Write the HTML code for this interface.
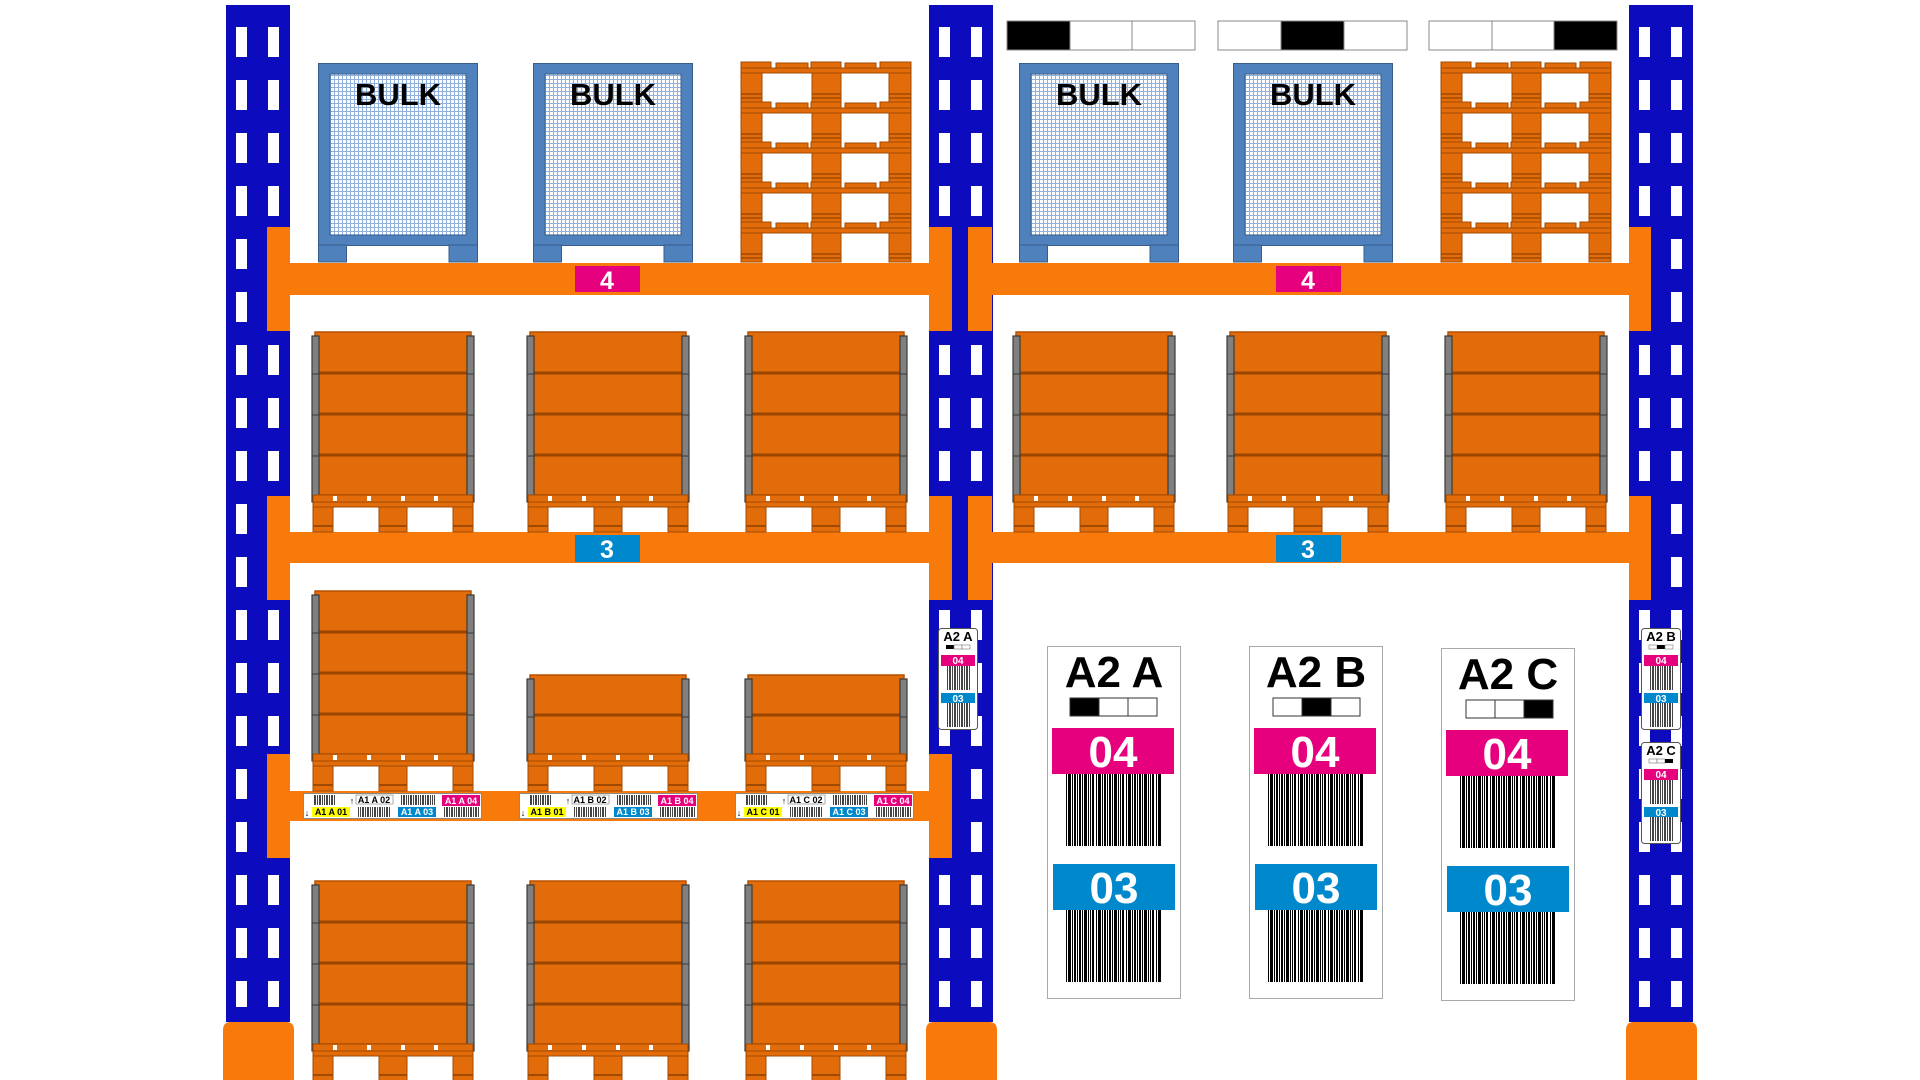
<!DOCTYPE html>
<html><head><meta charset="utf-8"><style>
html,body{margin:0;padding:0;background:#fff;}
svg{display:block;}
text{font-family:"Liberation Sans",sans-serif;font-weight:bold;}
</style></head><body>
<svg width="1920" height="1080" viewBox="0 0 1920 1080" xmlns="http://www.w3.org/2000/svg">
<defs>
  <pattern id="slots" patternUnits="userSpaceOnUse" x="0" y="27" width="64" height="53">
    <rect x="10" y="0" width="11" height="30" fill="#fff"/>
    <rect x="42" y="0" width="11" height="30" fill="#fff"/>
  </pattern>
  <pattern id="mesh" patternUnits="userSpaceOnUse" width="4" height="4">
    <rect width="4" height="4" fill="#fff"/>
    <path d="M0 0.5H4M0.5 0V4" stroke="#8fb0dc" stroke-width="1"/>
  </pattern>
  <pattern id="bc" patternUnits="userSpaceOnUse" width="30" height="10">
    <rect x="0" width="1" height="10" fill="#000"/><rect x="2" width="2" height="10" fill="#000"/>
    <rect x="5" width="1" height="10" fill="#000"/><rect x="7" width="3" height="10" fill="#000"/>
    <rect x="11" width="1" height="10" fill="#000"/><rect x="13" width="1" height="10" fill="#000"/>
    <rect x="15" width="2" height="10" fill="#000"/><rect x="19" width="1" height="10" fill="#000"/>
    <rect x="21" width="3" height="10" fill="#000"/><rect x="25" width="1" height="10" fill="#000"/>
    <rect x="27" width="2" height="10" fill="#000"/>
  </pattern>
  <pattern id="bcs" patternUnits="userSpaceOnUse" width="12" height="10">
    <rect x="0" width="1" height="10" fill="#444"/><rect x="2" width="1" height="10" fill="#444"/>
    <rect x="4" width="2" height="10" fill="#444"/><rect x="7" width="1" height="10" fill="#444"/>
    <rect x="9" width="1" height="10" fill="#444"/><rect x="11" width="1" height="10" fill="#444"/>
  </pattern>

  <g id="upright">
    <rect x="0" y="5" width="64" height="1017" fill="#0c0cbe"/>
    <rect x="0" y="27" width="64" height="980" fill="url(#slots)"/>
    <path d="M-3 1080V1030Q-3 1022 5 1022H60Q68 1022 68 1030V1080Z" fill="#f77a0a"/>
  </g>

  <g id="base">
    <rect x="1" y="0" width="160" height="7" fill="#e36c0a" stroke="#a04a00" stroke-width="1"/>
    <rect x="21" y="1" width="4" height="5" fill="#fff"/><rect x="55" y="1" width="4" height="5" fill="#fff"/>
    <rect x="89" y="1" width="4" height="5" fill="#fff"/><rect x="122" y="1" width="4" height="5" fill="#fff"/>
    <rect x="1" y="7" width="160" height="5" fill="#e36c0a" stroke="#a04a00" stroke-width="1"/>
    <rect x="1" y="12" width="20" height="25" fill="#e36c0a" stroke="#a04a00" stroke-width="1"/>
    <rect x="67" y="12" width="28" height="25" fill="#e36c0a" stroke="#a04a00" stroke-width="1"/>
    <rect x="141" y="12" width="20" height="25" fill="#e36c0a" stroke="#a04a00" stroke-width="1"/>
    <path d="M1 31H21M67 31H95M141 31H161" stroke="#a04a00" stroke-width="2"/>
  </g>

  <g id="box">
    <rect x="3" y="0" width="156" height="163" fill="#e36c0a" stroke="#b85000" stroke-width="1.5"/>
    <path d="M5 41H157M5 82H157M5 123H157" stroke="#9a4500" stroke-width="3"/>
    <rect x="0" y="4" width="7" height="166" fill="#808080" stroke="#3a3a3a" stroke-width="1.2"/>
    <rect x="155" y="4" width="7" height="166" fill="#808080" stroke="#3a3a3a" stroke-width="1.2"/>
    <path d="M0 42H7M0 83H7M0 124H7M155 42H162M155 83H162M155 124H162" stroke="#3a3a3a" stroke-width="1"/>
    <use href="#base" y="163"/>
  </g>

  <g id="sbox">
    <rect x="3" y="0" width="156" height="79" fill="#e36c0a" stroke="#b85000" stroke-width="1.5"/>
    <path d="M5 40H157" stroke="#9a4500" stroke-width="3"/>
    <rect x="0" y="4" width="7" height="82" fill="#808080" stroke="#3a3a3a" stroke-width="1.2"/>
    <rect x="155" y="4" width="7" height="82" fill="#808080" stroke="#3a3a3a" stroke-width="1.2"/>
    <path d="M0 42H7M155 42H162" stroke="#3a3a3a" stroke-width="1"/>
    <use href="#base" y="79"/>
  </g>

  <g id="pal">
    <rect x="0" y="0" width="30" height="6" fill="#e36c0a" stroke="#a04a00"/>
    <rect x="35" y="1" width="32" height="5" fill="#e36c0a" stroke="#a04a00"/>
    <rect x="70" y="0" width="30" height="6" fill="#e36c0a" stroke="#a04a00"/>
    <rect x="104" y="1" width="31" height="5" fill="#e36c0a" stroke="#a04a00"/>
    <rect x="139" y="0" width="31" height="6" fill="#e36c0a" stroke="#a04a00"/>
    <rect x="0" y="6" width="170" height="5" fill="#e36c0a" stroke="#a04a00"/>
    <rect x="0" y="11" width="21" height="29" fill="#e36c0a" stroke="#a04a00"/>
    <rect x="71" y="11" width="29" height="29" fill="#e36c0a" stroke="#a04a00"/>
    <rect x="148" y="11" width="22" height="29" fill="#e36c0a" stroke="#a04a00"/>
    <path d="M0 32H21M71 32H100M148 32H170M0 36H21M71 36H100M148 36H170" stroke="#a04a00" stroke-width="1.5"/>
  </g>
  <g id="stack">
    <use href="#pal" y="0"/><use href="#pal" y="40"/><use href="#pal" y="80"/><use href="#pal" y="120"/><use href="#pal" y="160"/>
  </g>

  <g id="cage">
    <rect x="0.5" y="0.5" width="159" height="182" fill="#4f81bd" stroke="#385d8a"/>
    <rect x="12" y="11" width="136" height="161" fill="url(#mesh)" stroke="#385d8a"/>
    <rect x="0.5" y="182" width="28" height="17" fill="#4f81bd" stroke="#385d8a"/>
    <rect x="131" y="182" width="28.5" height="17" fill="#4f81bd" stroke="#385d8a"/>
    <text x="80" y="42" font-size="31" text-anchor="middle" fill="#000">BULK</text>
  </g>

  <g id="biglab">
    <rect x="0.5" y="0.5" width="133" height="352" fill="#fff" stroke="#aaa"/>
    <rect x="5" y="82" width="122" height="46" fill="#e6007e"/>
    <text x="66" y="121" font-size="44" text-anchor="middle" fill="#fff">04</text>
    <rect x="17" y="128" width="98" height="72" fill="url(#bc)"/>
    <rect x="6" y="218" width="122" height="46" fill="#0088cc"/>
    <text x="67" y="257" font-size="44" text-anchor="middle" fill="#fff">03</text>
    <rect x="17" y="264" width="98" height="72" fill="url(#bc)"/>
  </g>

  <g id="smlab">
    <rect x="0.5" y="0.5" width="39" height="101" rx="3" fill="#fff" stroke="#555"/>
    <rect x="3" y="27" width="34" height="11" fill="#e6007e"/>
    <text x="20" y="36" font-size="10" text-anchor="middle" fill="#fff">04</text>
    <rect x="8" y="38" width="24" height="24" fill="url(#bcs)"/>
    <rect x="3" y="65" width="34" height="10" fill="#0088cc"/>
    <text x="20" y="74" font-size="10" text-anchor="middle" fill="#fff">03</text>
    <rect x="8" y="75" width="24" height="24" fill="url(#bcs)"/>
  </g>

  <g id="strip">
    <rect x="0.5" y="0.5" width="178" height="25" fill="#fff" stroke="#888"/>
    <rect x="10" y="2" width="22" height="10" fill="url(#bcs)"/>
    <rect x="97" y="2" width="35" height="10" fill="url(#bcs)"/>
    <rect x="54" y="14" width="33" height="10" fill="url(#bcs)"/>
    <rect x="140" y="14" width="37" height="10" fill="url(#bcs)"/>
    <rect x="53" y="2" width="37" height="9" fill="#fff" stroke="#999" stroke-width="0.8"/>
    <rect x="139" y="2" width="38" height="11" fill="#e6007e"/>
    <rect x="9" y="14" width="38" height="10" fill="#ffff00"/>
    <rect x="95" y="14" width="38" height="10" fill="#0088cc"/>
    <text x="49" y="11" font-size="9" text-anchor="middle" fill="#000">↑</text>
    <text x="4" y="23" font-size="9" text-anchor="middle" fill="#000">↓</text>
  </g>
</defs>

<!-- uprights -->
<use href="#upright" x="226"/>
<use href="#upright" x="929"/>
<use href="#upright" x="1629"/>

<!-- brackets -->
<g fill="#f77a0a">
  <rect x="267" y="227" width="23" height="104"/><rect x="267" y="496" width="23" height="104"/><rect x="267" y="754" width="23" height="104"/>
  <rect x="929" y="227" width="23" height="104"/><rect x="929" y="496" width="23" height="104"/><rect x="929" y="754" width="23" height="104"/>
  <rect x="968" y="227" width="24" height="104"/><rect x="968" y="496" width="24" height="104"/>
  <rect x="1629" y="227" width="22" height="104"/><rect x="1629" y="496" width="22" height="104"/>
  <!-- beams -->
  <rect x="290" y="263" width="640" height="32"/><rect x="992" y="263" width="637" height="32"/>
  <rect x="290" y="532" width="640" height="31"/><rect x="992" y="532" width="637" height="31"/>
  <rect x="290" y="791" width="640" height="30"/>
</g>

<!-- beam tags -->
<rect x="575" y="266" width="65" height="26" fill="#e6007e"/><text x="607" y="289" font-size="25" text-anchor="middle" fill="#fff">4</text>
<rect x="1276" y="266" width="65" height="26" fill="#e6007e"/><text x="1308" y="289" font-size="25" text-anchor="middle" fill="#fff">4</text>
<rect x="575" y="535" width="65" height="27" fill="#0088cc"/><text x="607" y="558" font-size="25" text-anchor="middle" fill="#fff">3</text>
<rect x="1276" y="535" width="65" height="27" fill="#0088cc"/><text x="1308" y="558" font-size="25" text-anchor="middle" fill="#fff">3</text>

<!-- top indicators -->
<g stroke="#888" stroke-width="1">
  <rect x="1007" y="21" width="63" height="29" fill="#000"/><rect x="1070" y="21" width="62" height="29" fill="#fff"/><rect x="1132" y="21" width="63" height="29" fill="#fff"/>
  <rect x="1218" y="21" width="63" height="29" fill="#fff"/><rect x="1281" y="21" width="63" height="29" fill="#000"/><rect x="1344" y="21" width="63" height="29" fill="#fff"/>
  <rect x="1429" y="21" width="63" height="29" fill="#fff"/><rect x="1492" y="21" width="62" height="29" fill="#fff"/><rect x="1554" y="21" width="63" height="29" fill="#000"/>
</g>

<!-- top level -->
<use href="#cage" x="318" y="63"/>
<use href="#cage" x="533" y="63"/>
<use href="#stack" x="741" y="62"/>
<use href="#cage" x="1019" y="63"/>
<use href="#cage" x="1233" y="63"/>
<use href="#stack" x="1441" y="62"/>

<!-- level 4 -->
<use href="#box" x="312" y="332"/><use href="#box" x="527" y="332"/><use href="#box" x="745" y="332"/>
<use href="#box" x="1013" y="332"/><use href="#box" x="1227" y="332"/><use href="#box" x="1445" y="332"/>

<!-- level 3 -->
<use href="#box" x="312" y="591"/>
<use href="#sbox" x="527" y="675"/><use href="#sbox" x="745" y="675"/>

<!-- level 1 -->
<use href="#box" x="312" y="881"/><use href="#box" x="527" y="881"/><use href="#box" x="745" y="881"/>

<!-- beam strips -->
<g font-size="9">
  <use href="#strip" x="303" y="793"/>
  <text x="374" y="803" text-anchor="middle" fill="#000">A1 A 02</text>
  <text x="461" y="804" text-anchor="middle" fill="#fff">A1 A 04</text>
  <text x="331" y="815" text-anchor="middle" fill="#000">A1 A 01</text>
  <text x="417" y="815" text-anchor="middle" fill="#fff">A1 A 03</text>
  <use href="#strip" x="519" y="793"/>
  <text x="590" y="803" text-anchor="middle" fill="#000">A1 B 02</text>
  <text x="677" y="804" text-anchor="middle" fill="#fff">A1 B 04</text>
  <text x="547" y="815" text-anchor="middle" fill="#000">A1 B 01</text>
  <text x="633" y="815" text-anchor="middle" fill="#fff">A1 B 03</text>
  <use href="#strip" x="735" y="793"/>
  <text x="806" y="803" text-anchor="middle" fill="#000">A1 C 02</text>
  <text x="893" y="804" text-anchor="middle" fill="#fff">A1 C 04</text>
  <text x="763" y="815" text-anchor="middle" fill="#000">A1 C 01</text>
  <text x="849" y="815" text-anchor="middle" fill="#fff">A1 C 03</text>
</g>

<!-- big labels -->
<g>
  <use href="#biglab" x="1047" y="646"/>
  <text x="1114" y="687" font-size="44" text-anchor="middle" fill="#000">A2 A</text>
  <rect x="1070" y="698" width="29" height="18" fill="#000" stroke="#333"/><rect x="1099" y="698" width="29" height="18" fill="#fff" stroke="#333"/><rect x="1128" y="698" width="29" height="18" fill="#fff" stroke="#333"/>
  <use href="#biglab" x="1249" y="646"/>
  <text x="1316" y="687" font-size="44" text-anchor="middle" fill="#000">A2 B</text>
  <rect x="1273" y="698" width="29" height="18" fill="#fff" stroke="#333"/><rect x="1302" y="698" width="29" height="18" fill="#000" stroke="#333"/><rect x="1331" y="698" width="29" height="18" fill="#fff" stroke="#333"/>
  <use href="#biglab" x="1441" y="648"/>
  <text x="1508" y="689" font-size="44" text-anchor="middle" fill="#000">A2 C</text>
  <rect x="1466" y="700" width="29" height="18" fill="#fff" stroke="#333"/><rect x="1495" y="700" width="29" height="18" fill="#fff" stroke="#333"/><rect x="1524" y="700" width="29" height="18" fill="#000" stroke="#333"/>
</g>

<!-- small upright labels -->
<g>
  <use href="#smlab" x="938" y="628"/>
  <text x="958" y="641" font-size="13" text-anchor="middle" fill="#000">A2 A</text>
  <rect x="946" y="645" width="8" height="4" fill="#000"/><rect x="954" y="645" width="8" height="4" fill="#fff" stroke="#777" stroke-width="0.6"/><rect x="962" y="645" width="8" height="4" fill="#fff" stroke="#777" stroke-width="0.6"/>
  <use href="#smlab" x="1641" y="628"/>
  <text x="1661" y="641" font-size="13" text-anchor="middle" fill="#000">A2 B</text>
  <rect x="1649" y="645" width="8" height="4" fill="#fff" stroke="#777" stroke-width="0.6"/><rect x="1657" y="645" width="8" height="4" fill="#000"/><rect x="1665" y="645" width="8" height="4" fill="#fff" stroke="#777" stroke-width="0.6"/>
  <use href="#smlab" x="1641" y="742"/>
  <text x="1661" y="755" font-size="13" text-anchor="middle" fill="#000">A2 C</text>
  <rect x="1649" y="759" width="8" height="4" fill="#fff" stroke="#777" stroke-width="0.6"/><rect x="1657" y="759" width="8" height="4" fill="#fff" stroke="#777" stroke-width="0.6"/><rect x="1665" y="759" width="8" height="4" fill="#000"/>
</g>
</svg>
</body></html>
